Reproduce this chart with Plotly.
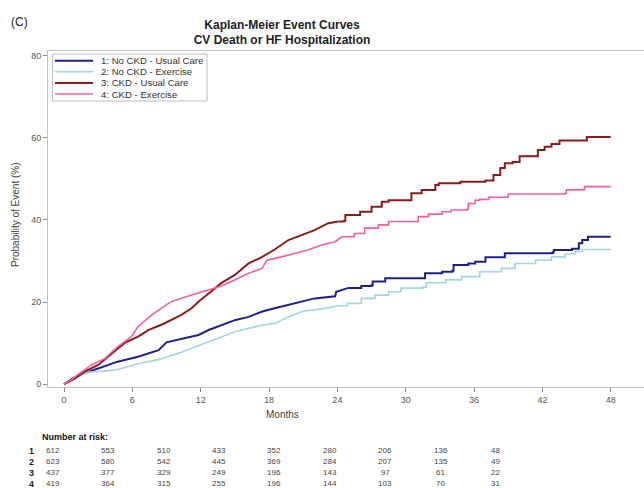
import plotly.graph_objects as go

# ---------------- data ----------------
series_names = ["1: No CKD - Usual Care", "2: No CKD - Exercise",
                "3: CKD - Usual Care", "4: CKD - Exercise"]
series_colors = ["#1f1f8a", "#a3d4e2", "#8a1c1f", "#f0609e"]
series_widths = [2.0, 1.6, 2.0, 1.6]

months_1 = [0, 0.8, 1.8, 3.0, 4.7, 6.5, 8.3, 9.0, 11.2, 11.8, 12.7, 13.8, 15.0, 16.2, 17.4, 18.5,
            19.7, 20.9, 22.0, 23.8, 23.9, 24.9, 26.1, 27.0, 27.1, 28.2, 31.6, 31.7, 33.2, 34.1,
            34.2, 35.5, 36.1, 37.0, 38.7, 42.9, 43.0, 44.6, 45.2, 45.5, 46.0, 48.0]
event_1 = [0, 1.5, 2.7, 3.9, 5.5, 6.7, 8.3, 10.2, 11.6, 12.0, 13.2, 14.4, 15.6, 16.4, 17.7, 18.5,
           19.3, 20.1, 20.9, 21.4, 22.5, 23.4, 23.9, 24.1, 25.0, 25.8, 25.8, 27.0, 27.4, 27.6,
           29.0, 29.4, 29.8, 30.9, 31.9, 32.1, 32.7, 33.0, 34.3, 35.1, 35.9, 35.9]

months_2 = [0, 1.2, 2.1, 3.6, 4.7, 6.5, 8.3, 10.0, 11.5, 12.7, 13.8, 15.0, 16.2, 17.4, 18.5, 19.7,
            20.9, 22.0, 23.2, 24.1, 24.9, 26.1, 27.3, 28.5, 29.6, 31.5, 31.8, 33.5, 34.9, 36.5,
            38.4, 39.6, 41.4, 42.8, 44.0, 44.9, 45.5, 48.0]
event_2 = [0, 1.8, 3.0, 3.2, 3.6, 5.0, 6.0, 7.5, 9.1, 10.3, 11.6, 12.8, 13.6, 14.4, 14.8, 16.4,
           17.7, 18.1, 18.6, 19.1, 19.7, 20.9, 21.7, 22.5, 23.4, 23.6, 24.7, 25.4, 26.2, 27.4,
           28.2, 29.4, 30.2, 31.0, 31.7, 32.3, 32.8, 32.8]

months_3 = [0, 0.5, 1.0, 1.8, 3.0, 4.2, 5.3, 6.5, 7.4, 8.8, 10.3, 11.2, 11.8, 12.7, 13.8, 15.0,
            16.2, 17.4, 18.5, 19.7, 20.9, 22.0, 23.2, 24.1, 24.6, 24.7, 26.0, 27.0, 27.9, 28.5,
            30.4, 30.5, 31.4, 32.6, 32.9, 34.8, 37.0, 37.7, 38.3, 38.7, 39.4, 40.0, 41.6, 42.2,
            42.8, 43.5, 45.8, 45.9, 48.0]
event_3 = [0, 0.8, 1.5, 3.1, 4.7, 7.5, 10.0, 11.6, 13.2, 14.8, 16.9, 18.5, 20.1, 22.1, 24.6, 26.6,
           29.4, 31.0, 32.8, 35.1, 36.3, 37.5, 39.2, 39.6, 39.8, 41.2, 42.0, 43.2, 44.4, 44.8,
           44.8, 46.5, 47.3, 48.5, 48.9, 49.3, 49.6, 50.9, 52.6, 53.8, 54.1, 55.5, 57.0, 57.8,
           58.5, 59.3, 59.3, 60.2, 60.2]

months_4 = [0, 0.6, 1.2, 2.4, 3.6, 4.7, 5.9, 6.5, 7.7, 8.5, 9.4, 11.2, 12.7, 13.8, 15.0, 16.2,
            17.4, 17.8, 19.1, 20.3, 21.4, 22.6, 23.8, 24.4, 25.5, 26.4, 27.6, 28.5, 31.0, 31.1,
            32.0, 33.2, 34.0, 35.4, 35.5, 36.1, 36.5, 37.3, 39.0, 44.0, 44.1, 45.6, 45.7, 48.0]
event_4 = [0, 1.0, 2.3, 4.7, 6.3, 9.1, 11.6, 14.0, 16.9, 18.5, 20.1, 21.7, 22.9, 23.9, 25.4, 27.0,
           28.2, 30.2, 31.0, 31.9, 32.7, 33.9, 34.7, 35.9, 36.7, 38.0, 38.8, 39.6, 39.6, 40.8,
           41.4, 42.0, 42.4, 42.6, 44.0, 44.8, 45.0, 45.5, 46.3, 46.4, 47.3, 47.3, 48.1, 48.1]

x_ticks = [0, 6, 12, 18, 24, 30, 36, 42, 48]
y_ticks = [0, 20, 40, 60, 80]

risk_labels = ["1", "2", "3", "4"]
risk_1 = [612, 553, 510, 433, 352, 280, 206, 136, 48]
risk_2 = [623, 580, 542, 445, 369, 284, 207, 135, 49]
risk_3 = [437, 377, 329, 249, 196, 143, 97, 61, 22]
risk_4 = [419, 364, 315, 255, 196, 144, 103, 70, 31]

# ---------------- figure ----------------
FONT = "Liberation Sans, Arial, sans-serif"
W, H = 644, 488
ML, MR, MT, MB = 48, 0, 51, 101
PW, PH = W - ML - MR, H - MT - MB
STEP_FROM = 24  # later follow-up drawn as visible steps, early part as dense jagged line


def px_to_paper_x(px):
    return (px - ML) / PW


def py_to_paper_y(py):
    return (H - MB - py) / PH


fig = go.Figure()
all_x = [months_1, months_2, months_3, months_4]
all_y = [event_1, event_2, event_3, event_4]
for name, xs, ys, col, w in zip(series_names, all_x, all_y, series_colors, series_widths):
    k = next(i for i, m in enumerate(xs) if m >= STEP_FROM)
    fig.add_trace(go.Scatter(x=xs[:k + 1], y=ys[:k + 1], mode="lines", name=name,
                             line_shape="linear", line=dict(color=col, width=w),
                             showlegend=False, hoverinfo="skip"))
    fig.add_trace(go.Scatter(x=xs[k:], y=ys[k:], mode="lines", name=name,
                             line_shape="hv", line=dict(color=col, width=w),
                             showlegend=False, hoverinfo="skip"))

axis_col = "#c4c4c4"
fig.update_layout(
    width=W, height=H,
    margin=dict(l=ML, r=MR, t=MT, b=MB, pad=0),
    paper_bgcolor="white", plot_bgcolor="white",
    font=dict(family=FONT, color="#333333"),
    title=dict(text="<b>Kaplan-Meier Event Curves<br>CV Death or HF Hospitalization</b>",
               x=282 / W, xanchor="center", xref="container",
               y=1 - 28.5 / H, yanchor="middle", yref="container",
               font=dict(size=12, family=FONT, color="#222222")),
    xaxis=dict(range=[-1.405, 50.92], tickvals=x_ticks, ticktext=[str(t) for t in x_ticks],
               showgrid=False, zeroline=False, showline=True, linecolor=axis_col,
               linewidth=1, mirror=True, ticks="outside", ticklen=4, tickcolor="#888888",
               tickfont=dict(size=9, color="#555555", family=FONT)),
    yaxis=dict(range=[-0.66, 81.1], tickvals=y_ticks, ticktext=[str(t) for t in y_ticks],
               showgrid=False, zeroline=False, showline=True, linecolor=axis_col,
               linewidth=1, ticks="outside", ticklen=4, tickcolor="#888888",
               tickfont=dict(size=9, color="#555555", family=FONT)),
    # helper scale for the number-at-risk table (compressed horizontally in the reference)
    xaxis2=dict(range=[-0.542, 64.04], overlaying="x", anchor="y", visible=False,
                showgrid=False, zeroline=False),
)

ann = []
ann.append(dict(text="(C)", xref="paper", yref="paper", x=px_to_paper_x(9),
                y=py_to_paper_y(22.5), xanchor="left", yanchor="middle", showarrow=False,
                font=dict(size=12, color="#222222", family=FONT)))
ann.append(dict(text="Probability of Event (%)", xref="paper", yref="paper",
                x=px_to_paper_x(15), y=py_to_paper_y(215), textangle=-90,
                xanchor="center", yanchor="middle", showarrow=False,
                font=dict(size=10, color="#444444", family=FONT)))
ann.append(dict(text="Months", xref="paper", yref="paper", x=px_to_paper_x(282),
                y=py_to_paper_y(414), xanchor="center", yanchor="middle", showarrow=False,
                font=dict(size=10, color="#444444", family=FONT)))

# manual compact legend
shapes = [dict(type="rect", xref="paper", yref="paper",
               x0=px_to_paper_x(52.5), x1=px_to_paper_x(207), y0=py_to_paper_y(101),
               y1=py_to_paper_y(54), line=dict(color="#bdbdbd", width=1),
               fillcolor="white", layer="above")]
leg_y = [60.7, 71.8, 82.9, 94.0]
for name, col, w, ly in zip(series_names, series_colors, series_widths, leg_y):
    shapes.append(dict(type="line", xref="paper", yref="paper",
                       x0=px_to_paper_x(55), x1=px_to_paper_x(93),
                       y0=py_to_paper_y(ly), y1=py_to_paper_y(ly),
                       line=dict(color=col, width=w), layer="above"))
    ann.append(dict(text=name, xref="paper", yref="paper", x=px_to_paper_x(98.5),
                    y=py_to_paper_y(ly), xanchor="left", yanchor="middle", showarrow=False,
                    font=dict(size=9.6, color="#333333", family=FONT)))

# number at risk table
ann.append(dict(text="<b>Number at risk:</b>", xref="paper", yref="paper",
                x=px_to_paper_x(39.5), y=py_to_paper_y(437.3), xanchor="left",
                yanchor="middle", showarrow=False,
                font=dict(size=9, color="#111111", family=FONT)))
row_y = [450.7, 461.7, 472.7, 483.7]
for lab, row, ry in zip(risk_labels, [risk_1, risk_2, risk_3, risk_4], row_y):
    ann.append(dict(text="<b>" + lab + "</b>", xref="paper", yref="paper",
                    x=px_to_paper_x(31), y=py_to_paper_y(ry), xanchor="center",
                    yanchor="middle", showarrow=False,
                    font=dict(size=9, color="#222222", family=FONT)))
    for t, v in zip(x_ticks, row):
        ann.append(dict(text=str(v), xref="x2", yref="paper", x=t, y=py_to_paper_y(ry),
                        xanchor="center", yanchor="middle", showarrow=False,
                        font=dict(size=8, color="#444444", family=FONT)))

fig.update_layout(annotations=ann, shapes=shapes)
fig.write_html("out.html")
